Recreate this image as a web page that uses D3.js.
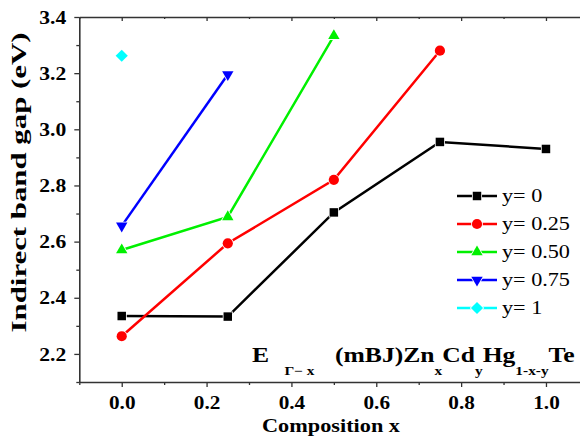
<!DOCTYPE html>
<html>
<head>
<meta charset="utf-8">
<script src="https://cdn.jsdelivr.net/npm/d3@7"></script>
<style>
  html, body { margin: 0; padding: 0; background: #fff; }
  svg { display: block; }
  svg text { font-family: "Liberation Serif", "Times New Roman", Times, serif !important; }
</style>
</head>
<body>
<svg id="chart" width="580" height="447"></svg>
<script>
// Indirect band gap vs composition x, one series per Cd fraction y
const seriesNames = ["y= 0", "y= 0.25", "y= 0.50", "y= 0.75", "y= 1"];
const seriesColors = ["#000000", "#ff0000", "#00f000", "#0000ff", "#00ffff"];
const seriesSymbols = ["square", "circle", "triangleUp", "triangleDown", "diamond"];

const xY0 = [0, 0.25, 0.5, 0.75, 1.0];
const gapY0 = [2.335, 2.333, 2.704, 2.955, 2.930];
const xY025 = [0, 0.25, 0.5, 0.75];
const gapY025 = [2.263, 2.594, 2.820, 3.280];
const xY050 = [0, 0.25, 0.5];
const gapY050 = [2.570, 2.688, 3.333];
const xY075 = [0, 0.25];
const gapY075 = [2.656, 3.195];
const xY1 = [0];
const gapY1 = [3.262];

const xMajorTicks = [0.0, 0.2, 0.4, 0.6, 0.8, 1.0];
const xMinorTicks = [-0.1, 0.1, 0.3, 0.5, 0.7, 0.9, 1.1];
const yMajorTicks = [2.2, 2.4, 2.6, 2.8, 3.0, 3.2, 3.4];
const yMinorTicks = [2.1, 2.3, 2.5, 2.7, 2.9, 3.1, 3.3];

const xTitle = "Composition x";
const yTitle = "Indirect band gap  (eV)";

const series = [
  { xs: xY0, ys: gapY0 },
  { xs: xY025, ys: gapY025 },
  { xs: xY050, ys: gapY050 },
  { xs: xY075, ys: gapY075 },
  { xs: xY1, ys: gapY1 }
].map((s, i) => ({
  name: seriesNames[i], color: seriesColors[i], symbol: seriesSymbols[i],
  points: s.xs.map((x, j) => ({ x, y: s.ys[j] }))
}));

const svg = d3.select("#chart");
const xScale = d3.scaleLinear().domain([-0.1, 1.1]).range([79.3, 588.4]);
const yScale = d3.scaleLinear().domain([2.1, 3.4]).range([382, 17]);

const axisColor = "#333";

// stretch a text element horizontally (along its own baseline) about its anchor
function stretchTo(sel, anchorX, targetWidth) {
  const w = sel.node().getBBox().width;
  const k = targetWidth / w;
  sel.attr("transform", `translate(${anchorX},0) scale(${k},1) translate(${-anchorX},0)`);
}
function stretchBy(sel, anchorX, k) {
  sel.attr("transform", `translate(${anchorX},0) scale(${k},1) translate(${-anchorX},0)`);
}

// bottom axis
const axisBottomG = svg.append("g").attr("transform", `translate(0,${yScale(2.1)})`);
axisBottomG.call(d3.axisBottom(xScale).tickValues(xMajorTicks).tickSize(5).tickSizeOuter(0).tickFormat(d3.format(".1f")));
axisBottomG.append("g").call(d3.axisBottom(xScale).tickValues(xMinorTicks).tickSize(3).tickSizeOuter(0).tickFormat(""))
  .select(".domain").remove();

// left axis
const axisLeftG = svg.append("g").attr("transform", `translate(${xScale(-0.1)},0)`);
axisLeftG.call(d3.axisLeft(yScale).tickValues(yMajorTicks).tickSize(5).tickSizeOuter(0).tickFormat(d3.format(".1f")));
axisLeftG.append("g").call(d3.axisLeft(yScale).tickValues(yMinorTicks).tickSize(3).tickSizeOuter(0).tickFormat(""))
  .select(".domain").remove();

// top frame with inward ticks
const axisTopG = svg.append("g").attr("transform", `translate(0,${yScale(3.4)})`);
axisTopG.call(d3.axisTop(xScale).tickValues(xMajorTicks).tickSize(-4).tickSizeOuter(0).tickFormat(""));
axisTopG.append("g").call(d3.axisTop(xScale).tickValues(xMinorTicks).tickSize(-2).tickSizeOuter(0).tickFormat(""))
  .select(".domain").remove();

svg.selectAll("g").attr("font-family", null);
svg.selectAll(".domain").attr("stroke", axisColor).attr("stroke-width", 1.6);
svg.selectAll(".tick line").attr("stroke", axisColor).attr("stroke-width", 1.3);

// tick labels
axisBottomG.selectAll(".tick text")
  .attr("y", 14).attr("dy", "0.71em")
  .style("font-size", "18px").style("font-weight", "bold").attr("fill", "#000")
  .each(function () { stretchBy(d3.select(this), 0, 1.18); });

axisLeftG.selectAll(".tick text")
  .attr("x", -13).attr("dy", "0.34em")
  .style("font-size", "18px").style("font-weight", "bold").attr("fill", "#000")
  .each(function () { stretchBy(d3.select(this), -13, 1.2); });

// axis titles
const xt = svg.append("text")
  .attr("x", 331).attr("y", 432).attr("text-anchor", "middle")
  .style("font-size", "18px").style("font-weight", "bold").text(xTitle);
stretchTo(xt, 331, 138);

const yt = svg.append("text")
  .attr("x", 0).attr("y", 0).attr("text-anchor", "middle")
  .style("font-size", "20px").style("font-weight", "bold").text(yTitle);
{
  const w = yt.node().getBBox().width;
  const k = 300 / w;
  yt.attr("transform", `translate(26,182.5) rotate(-90) scale(${k},1)`);
}

// symbol generators
function symbolPath(kind) {
  switch (kind) {
    case "square": return d3.symbol(d3.symbolSquare, 72)();
    case "circle": return d3.symbol(d3.symbolCircle, 82)();
    case "triangleUp": return d3.symbol(d3.symbolTriangle, 56)();
    case "triangleDown": return d3.symbol(d3.symbolTriangle, 56)();
    case "diamond": return d3.symbol(d3.symbolSquare, 74)();
  }
}
function symbolRotate(kind) {
  if (kind === "triangleDown") return 180;
  if (kind === "diamond") return 45;
  return 0;
}

const line = d3.line().x(d => xScale(d.x)).y(d => yScale(d.y));

const plot = svg.append("g");
series.forEach(s => {
  plot.append("path").datum(s.points)
    .attr("d", line).attr("fill", "none")
    .attr("stroke", s.color).attr("stroke-width", 2.5);
});
series.forEach(s => {
  plot.selectAll(null).data(s.points).enter().append("path")
    .attr("d", symbolPath(s.symbol))
    .attr("transform", d => `translate(${xScale(d.x)},${yScale(d.y)}) rotate(${symbolRotate(s.symbol)})`)
    .attr("fill", s.color).attr("stroke", "#fff").attr("stroke-width", 1.6)
    .attr("paint-order", "stroke");
});

// legend
const legend = svg.append("g");
const rowY = [196, 224, 252, 280, 308];
const legendText = [];
series.forEach((s, i) => {
  const g = legend.append("g").attr("transform", `translate(0,${rowY[i]})`);
  g.append("line").attr("x1", 457).attr("x2", 497).attr("y1", 0).attr("y2", 0)
    .attr("stroke", s.color).attr("stroke-width", 2.5);
  g.append("path").attr("d", symbolPath(s.symbol))
    .attr("transform", `translate(477,0) rotate(${symbolRotate(s.symbol)})`)
    .attr("fill", s.color).attr("stroke", "#fff").attr("stroke-width", 1.6)
    .attr("paint-order", "stroke");
  legendText.push(g.append("text").attr("x", 502).attr("y", 0).attr("dy", "0.35em")
    .style("font-size", "18px").attr("fill", "#000").text(s.name));
});
{
  const w = legendText[1].node().getBBox().width;
  const k = 68 / w;
  legendText.forEach(t => stretchBy(t, 502, k));
}

// formula annotation
const ann = svg.append("text").attr("x", 252).attr("y", 362)
  .style("font-size", "20px").style("font-weight", "bold").attr("fill", "#000");
const subShift = 13;
ann.append("tspan").text("E");
ann.append("tspan").attr("dx", 12).attr("dy", subShift).style("font-size", "12px").text("Γ− x");
ann.append("tspan").attr("dx", 16).attr("dy", -subShift).text("(mBJ)Zn");
ann.append("tspan").attr("dy", subShift).style("font-size", "12px").text("x");
ann.append("tspan").attr("dy", -subShift).text("Cd");
ann.append("tspan").attr("dy", subShift).style("font-size", "12px").text("y");
ann.append("tspan").attr("dy", -subShift).text("Hg");
ann.append("tspan").attr("dy", subShift).style("font-size", "12px").text("1-x-y");
ann.append("tspan").attr("dy", -subShift).text("Te");
stretchTo(ann, 252, 323);
</script>
</body>
</html>
